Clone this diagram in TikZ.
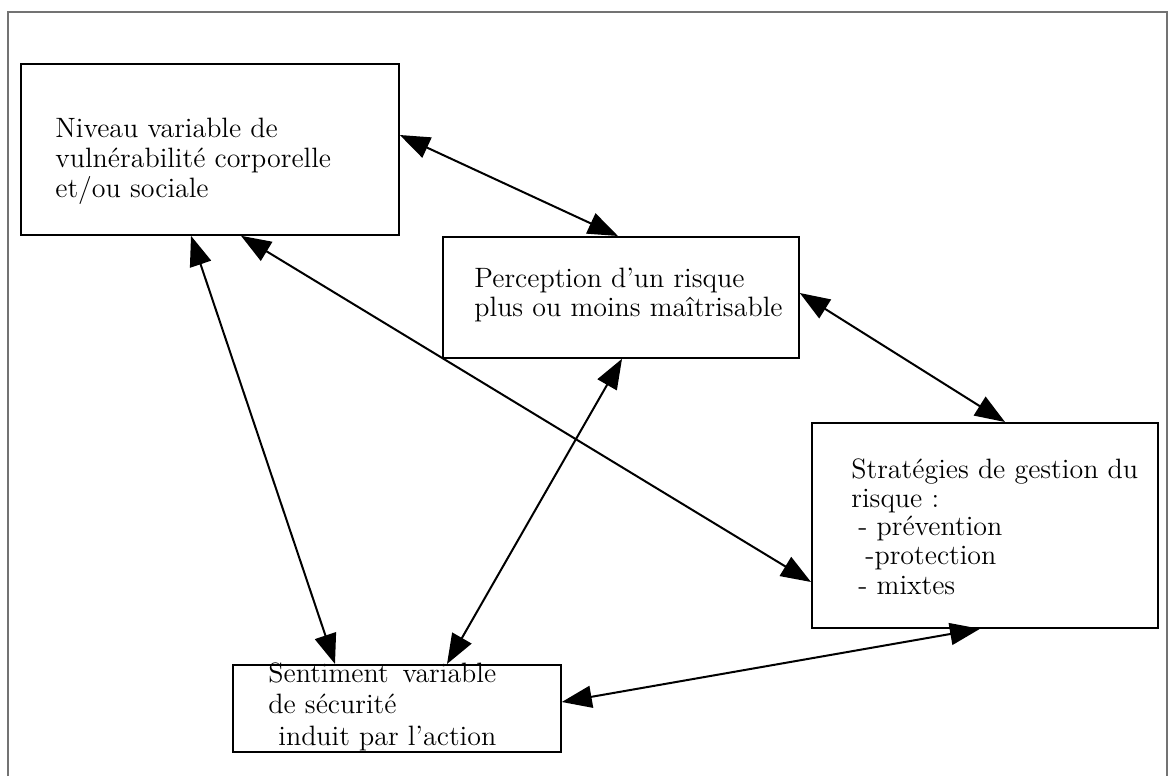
\documentclass[tikz,border=0pt]{standalone}
\usetikzlibrary{arrows.meta,calc}
\begin{document}
\begin{tikzpicture}[x=0.5pt,y=-0.5pt,
  box/.style={draw, line width=0.9pt, rectangle, inner sep=0pt, anchor=north west},
  txt/.style={anchor=base west, inner sep=0pt, font=\fontsize{14}{15}\selectfont},
  link/.style={{Triangle[length=15pt,width=11pt]}-{Triangle[length=15pt,width=11pt]}, line width=1pt},
  frame/.style={draw=black!55, line width=0.6pt}]
\useasboundingbox (0,0) rectangle (1172,776);
% outer frame
\coordinate (f1) at (8,776);
\coordinate (f2) at (8,12);
\coordinate (f3) at (1167,12);
\coordinate (f4) at (1167,776);
\draw[frame] (f1) -- (f2) -- (f3) -- (f4);
% boxes
\node[box, minimum width=189pt, minimum height=85.5pt] (A) at (20,63) {};
\node[box, minimum width=178pt, minimum height=60.5pt] (P) at (442,236) {};
\node[box, minimum width=173pt, minimum height=102.5pt] (S) at (811,422) {};
\node[box, minimum width=164pt, minimum height=43.5pt] (E) at (232,664) {};
% texts
\node[txt] (a1) at (55,137) {Niveau variable de};
\node[txt] (a2) at (55,167) {vulnérabilité corporelle};
\node[txt] (a3) at (55,197) {et/ou sociale};
\node[txt] (p1) at (474,287) {Perception d'un risque};
\node[txt] (p2) at (474,316) {plus ou moins maîtrisable};
\node[txt] (s1) at (851,478) {Stratégies de gestion du};
\node[txt] (s2) at (851,507) {risque :};
\node[txt] (s3) at (858,535) {- prévention};
\node[txt] (s4) at (865,564) {-protection};
\node[txt] (s5) at (858,594) {- mixtes};
\node[txt] (e1) at (268,682) {Sentiment\, variable};
\node[txt] (e2) at (268,713) {de sécurité};
\node[txt] (e3) at (278,745) {induit par l'action};
% connectors
\draw[link] ($(A.north east)+(0,72)$) -- ($(P.north west)+(176,0)$);
\draw[link] ($(P.north east)+(0,57)$) -- ($(S.north west)+(194,0)$);
\draw[link] ($(A.south west)+(171,0)$) -- ($(E.north west)+(103,0)$);
\draw[link] ($(A.south west)+(221,0)$) -- ($(S.north west)+(0,160)$);
\draw[link] ($(P.south west)+(180,0)$) -- ($(E.north west)+(215,0)$);
\draw[link] ($(S.south west)+(169,0)$) -- ($(E.north east)+(0,38)$);
\end{tikzpicture}
\end{document}
